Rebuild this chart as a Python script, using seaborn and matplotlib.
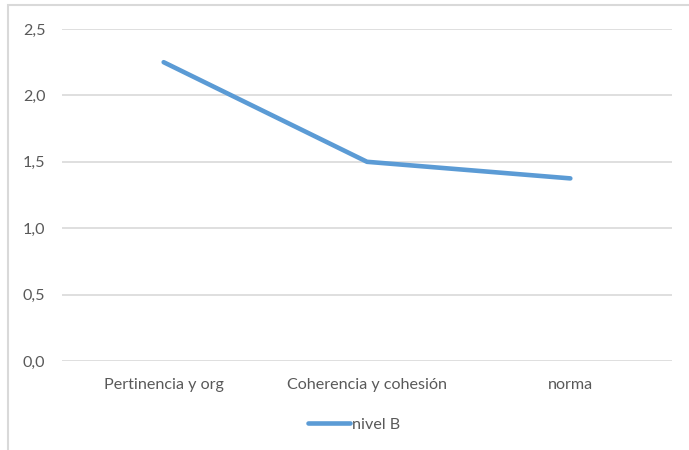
import matplotlib
matplotlib.use("Agg")
import matplotlib.pyplot as plt
from matplotlib.patches import Rectangle
from matplotlib.lines import Line2D
from matplotlib.ticker import FuncFormatter
import seaborn as sns
import pandas as pd

categories = ["Pertinencia y org", "Coherencia y cohesión", "norma"]
nivel_b = [2.25, 1.5, 1.375]
series_name = "nivel B"
y_ticks = [0.0, 0.5, 1.0, 1.5, 2.0, 2.5]

df = pd.DataFrame({"categoria": categories, "valor": nivel_b, "serie": series_name})

sns.set_theme(style="white")
plt.rcParams["font.family"] = ["Lato", "DejaVu Sans"]

text_color = "#595959"
grid_color = "#D9D9D9"
line_color = "#5B9BD5"
font_size = 11.6

fig = plt.figure(figsize=(6.89, 4.5), dpi=100)
fig.patch.set_facecolor("white")

# chart frame
fig.patches.append(Rectangle((8 / 689, -0.05), 1.1, 1 - 5 / 450 + 0.05,
                             transform=fig.transFigure, fill=False,
                             edgecolor=grid_color, linewidth=1.5))

ax = fig.add_axes([62 / 689, 1 - 361 / 450, 610 / 689, 332 / 450])
x_pos = list(range(len(categories)))
df["x"] = x_pos
sns.lineplot(data=df, x="x", y="valor", hue="serie", palette=[line_color],
             linewidth=3.3, ax=ax, legend=False, solid_capstyle="round")

ax.set_xlim(-0.5, len(categories) - 0.5)
ax.set_ylim(0, 2.5)
ax.set_yticks(y_ticks)
ax.yaxis.set_major_formatter(FuncFormatter(lambda v, p: f"{v:.1f}".replace(".", ",")))
ax.set_xticks(x_pos)
ax.set_xticklabels(categories)
ax.set_xlabel("")
ax.set_ylabel("")

for y in y_ticks:
    ax.axhline(y, color=grid_color, linewidth=1.2, zorder=0)
for s in ax.spines.values():
    s.set_visible(False)
ax.tick_params(axis="both", length=0, colors=text_color, labelsize=font_size)
ax.tick_params(axis="y", pad=12)
ax.tick_params(axis="x", pad=12)

# legend
handle = Line2D([0], [0], color=line_color, linewidth=3.3, solid_capstyle="round")
fig.legend([handle], [series_name], loc="center", bbox_to_anchor=(354 / 689, 1 - 425 / 450),
           frameon=False, fontsize=font_size, labelcolor=text_color, handlelength=2.6,
           handletextpad=0.15)

fig.savefig("out.png", dpi=100, facecolor="white")
